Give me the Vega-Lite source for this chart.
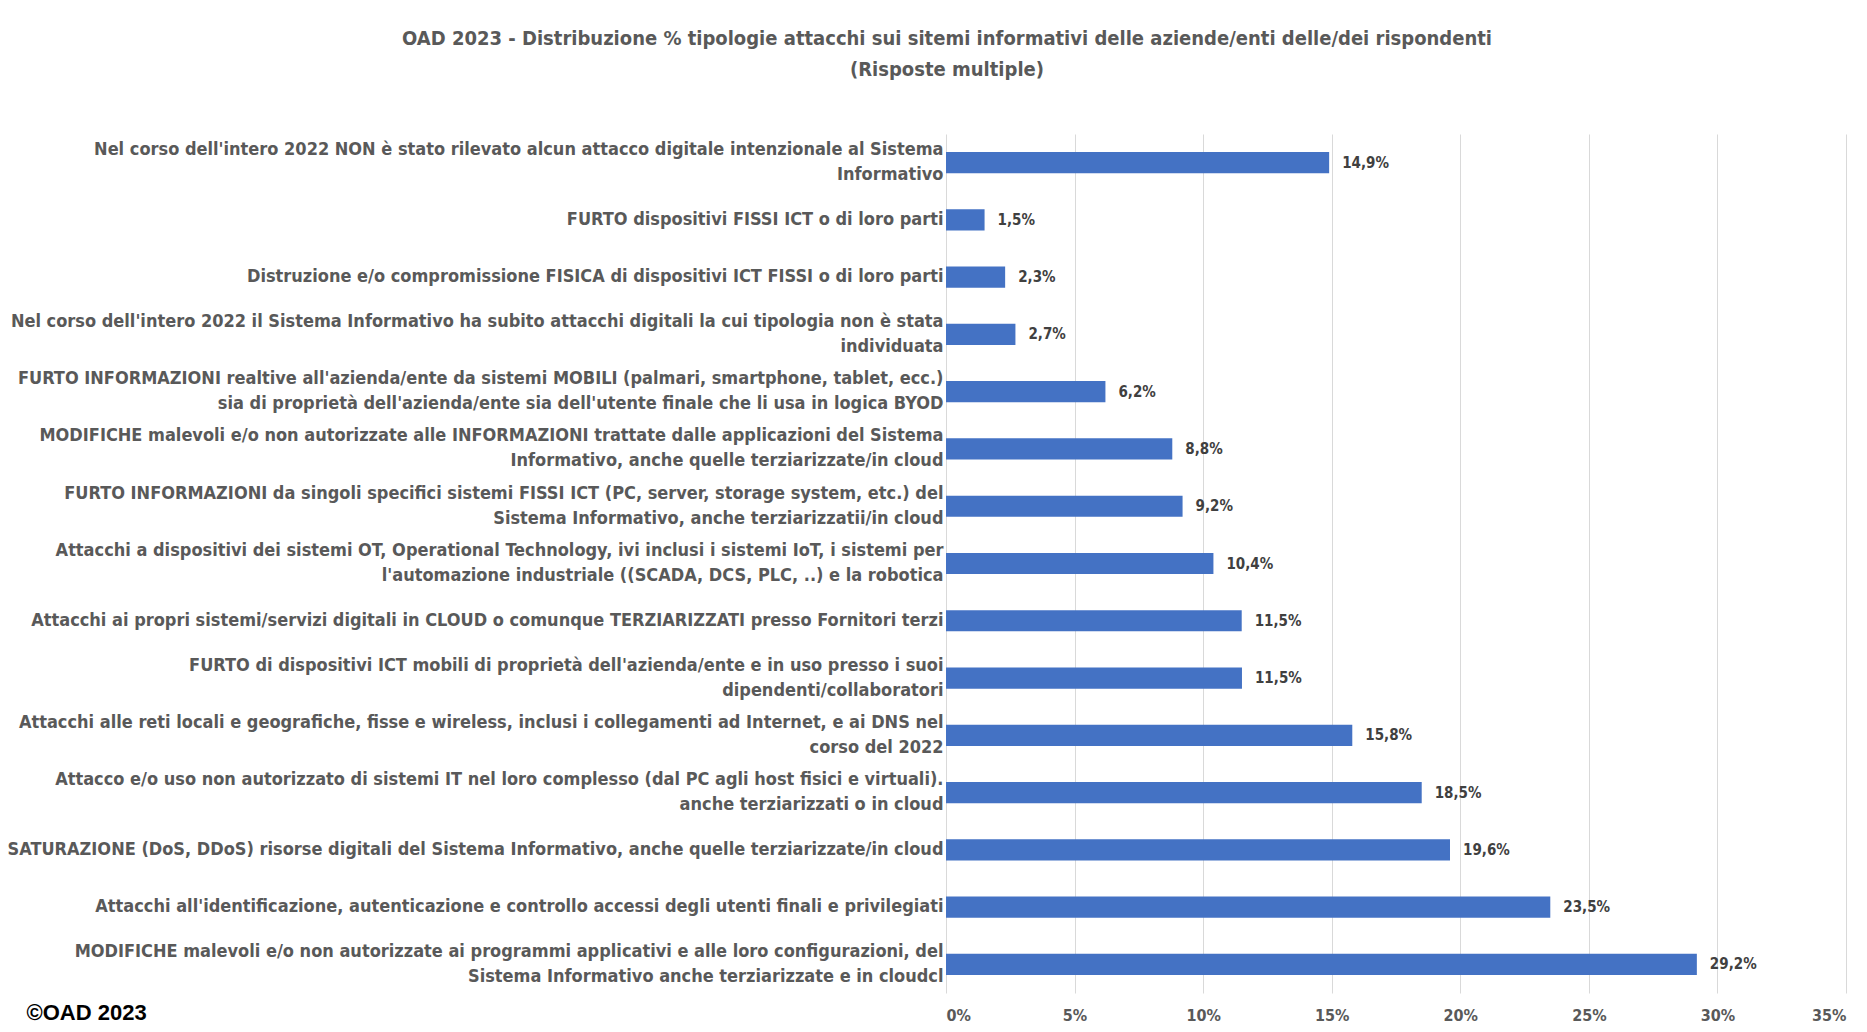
{
  "$schema": "https://vega.github.io/schema/vega-lite/v6.json",
  "autosize": {"type": "none"},
  "width": 900,
  "height": 859,
  "padding": {"left": 946, "top": 134, "right": 21, "bottom": 39},
  "background": "white",
  "config": {
    "locale": {"number": {"decimal": ",", "thousands": ".", "grouping": [3], "currency": ["€", ""]}},
    "view": {"stroke": null},
    "font": "Liberation Sans Narrow, DejaVu Sans Condensed, sans-serif"
  },
  "title": {
    "text": ["OAD 2023 - Distribuzione % tipologie attacchi sui sitemi informativi delle aziende/enti delle/dei rispondenti", "(Risposte multiple)"],
    "anchor": "middle",
    "dx": -449,
    "offset": 54,
    "fontSize": 20,
    "lineHeight": 31,
    "fontWeight": "bold",
    "color": "#595959",
    "font": "Liberation Sans Narrow, DejaVu Sans Condensed, sans-serif"
  },
  "data": {
    "values": [
      {"cat": "Nel corso dell'intero 2022 NON  è stato rilevato alcun attacco digitale intenzionale al Sistema|Informativo", "v": 0.149},
      {"cat": "FURTO dispositivi FISSI  ICT o di loro parti", "v": 0.015},
      {"cat": "Distruzione e/o compromissione FISICA di dispositivi ICT FISSI o di loro parti", "v": 0.023},
      {"cat": "Nel corso dell'intero 2022 il Sistema Informativo ha subito attacchi digitali la cui tipologia non è stata|individuata", "v": 0.027},
      {"cat": "FURTO INFORMAZIONI realtive all'azienda/ente da sistemi MOBILI  (palmari, smartphone, tablet, ecc.)|sia di proprietà dell'azienda/ente sia dell'utente finale che li usa in logica BYOD", "v": 0.062},
      {"cat": "MODIFICHE malevoli e/o non autorizzate alle INFORMAZIONI trattate dalle applicazioni del Sistema|Informativo, anche quelle terziarizzate/in cloud", "v": 0.088},
      {"cat": "FURTO INFORMAZIONI da singoli specifici sistemi FISSI ICT (PC, server, storage system, etc.) del|Sistema Informativo, anche terziarizzatii/in cloud", "v": 0.092},
      {"cat": "Attacchi a dispositivi dei sistemi OT, Operational Technology,  ivi inclusi i sistemi IoT, i sistemi per|l'automazione industriale ((SCADA, DCS, PLC, ..) e la robotica", "v": 0.104},
      {"cat": "Attacchi ai propri sistemi/servizi digitali in CLOUD o comunque TERZIARIZZATI presso Fornitori terzi", "v": 0.115},
      {"cat": "FURTO di dispositivi ICT mobili di proprietà dell'azienda/ente e in uso presso i suoi|dipendenti/collaboratori", "v": 0.1151},
      {"cat": "Attacchi alle reti locali e geografiche, fisse e wireless, inclusi i collegamenti ad Internet, e ai DNS nel|corso del 2022", "v": 0.158},
      {"cat": "Attacco e/o uso non autorizzato di  sistemi IT  nel loro complesso (dal PC agli host fisici e virtuali).|anche terziarizzati o in cloud", "v": 0.185},
      {"cat": "SATURAZIONE (DoS, DDoS) risorse digitali del Sistema Informativo, anche quelle terziarizzate/in cloud", "v": 0.196},
      {"cat": "Attacchi all'identificazione, autenticazione e controllo accessi degli utenti finali e privilegiati", "v": 0.235},
      {"cat": "MODIFICHE  malevoli e/o non autorizzate ai programmi applicativi e alle loro configurazioni, del|Sistema Informativo anche terziarizzate e in cloudcl", "v": 0.292}
    ]
  },
  "encoding": {
    "y": {
      "field": "cat",
      "type": "nominal",
      "sort": null,
      "scale": {"paddingInner": 0.63, "paddingOuter": 0.315},
      "axis": {
        "title": "©OAD 2023",
        "titleAngle": 0,
        "titleAlign": "left",
        "titleBaseline": "middle",
        "titleX": -920,
        "titleY": 878,
        "titleFont": "Liberation Sans, Arial, sans-serif",
        "titleFontSize": 22,
        "titleFontWeight": "bold",
        "titleColor": "#000000",
        "domain": false,
        "ticks": false,
        "grid": false,
        "labelPadding": 3,
        "labelFontSize": 18,
        "labelFontWeight": "bold",
        "labelColor": "#595959",
        "labelLimit": 1000,
        "labelLineHeight": 25,
        "labelOffset": {"condition": {"test": "indexof(datum.value, '|') >= 0", "value": -12.5}, "value": 0},
        "labelExpr": "split(datum.label, '|')"
      }
    },
    "x": {
      "field": "v",
      "type": "quantitative",
      "scale": {"domain": [0, 0.35], "nice": false},
      "axis": {
        "title": null,
        "format": ".0%",
        "values": [0, 0.05, 0.1, 0.15, 0.2, 0.25, 0.3, 0.35],
        "domain": false,
        "ticks": false,
        "grid": true,
        "gridColor": "#d9d9d9",
        "gridWidth": 1,
        "labelPadding": 14,
        "labelFontSize": 16,
        "labelFontWeight": "bold",
        "labelColor": "#595959"
      }
    }
  },
  "layer": [
    {"mark": {"type": "bar", "color": "#4472C4"}},
    {
      "mark": {"type": "text", "align": "left", "baseline": "middle", "dx": 13, "fontSize": 15, "fontWeight": "bold", "color": "#404040"},
      "encoding": {"text": {"field": "v", "type": "quantitative", "format": ".1%"}}
    }
  ]
}
